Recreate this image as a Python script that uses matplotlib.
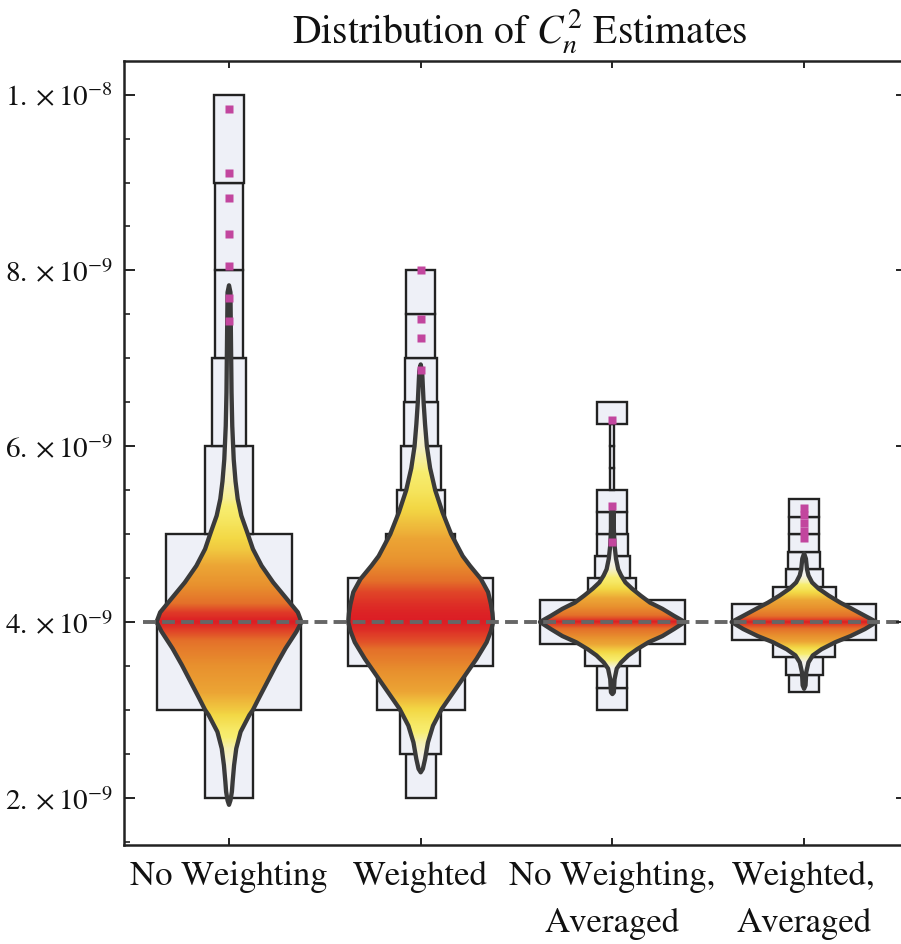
import numpy as np
import matplotlib
matplotlib.use("Agg")
import matplotlib.pyplot as plt
from matplotlib.patches import Rectangle, Polygon
from matplotlib.colors import LinearSegmentedColormap
from matplotlib.ticker import FixedLocator, FuncFormatter, MultipleLocator

plt.rcParams['font.family'] = ['STIXGeneral', 'DejaVu Sans']
plt.rcParams['mathtext.fontset'] = 'stix'

# ---------------- data (values in units of 1e-9) ----------------
UNIT = 1e-9
categories = ["No Weighting", "Weighted", "No Weighting,\nAveraged", "Weighted,\nAveraged"]
reference_value = 4.0

# histogram-like bins (edges) and their relative widths (1 = widest)
bins_g1 = [2.0, 3.0, 4.0, 5.0, 6.0, 7.0, 8.0, 9.0, 10.0]
wts_g1 = [0.33, 1.00, 0.876, 0.33, 0.24, 0.20, 0.20, 0.214]

bins_g2 = [2.0, 2.5, 3.0, 3.5, 4.0, 4.5, 5.0, 5.5, 6.0, 6.5, 7.0, 7.5, 8.0]
wts_g2 = [0.207, 0.283, 0.607, 1.00, 1.00, 0.476, 0.331, 0.276, 0.234, 0.221, 0.20, 0.20]

bins_g3 = [3.0, 3.25, 3.5, 3.75, 4.0, 4.25, 4.5, 4.75, 5.0, 5.25, 5.5, 5.75, 6.0, 6.25, 6.5]
wts_g3 = [0.207, 0.207, 0.379, 1.00, 1.00, 0.331, 0.241, 0.214, 0.207, 0.207, 0.028, 0.028, 0.028, 0.207]

bins_g4 = [3.2, 3.4, 3.6, 3.8, 4.0, 4.2, 4.4, 4.6, 4.8, 5.0, 5.2, 5.4]
wts_g4 = [0.207, 0.255, 0.428, 0.993, 0.993, 0.434, 0.255, 0.221, 0.207, 0.207, 0.207]

# violin profiles: y values and relative half widths (density, 1 = max)
vy_g1 = [1.92, 1.97, 2.07, 2.18, 2.37, 2.56, 2.75, 2.94, 3.00, 3.13, 3.32, 3.51, 3.70, 3.89, 4.00,
         4.11, 4.27, 4.45, 4.64, 4.83, 5.00, 5.21, 5.40, 5.60, 5.85, 6.23, 6.61, 7.00, 7.37, 7.75, 7.83]
vw_g1 = [0.0, 0.02, 0.04, 0.05, 0.07, 0.10, 0.16, 0.28, 0.33, 0.41, 0.53, 0.65, 0.78, 0.93, 1.00,
         0.95, 0.79, 0.61, 0.45, 0.33, 0.26, 0.17, 0.12, 0.09, 0.065, 0.045, 0.035, 0.03, 0.025, 0.02, 0.0]

vy_g2 = [2.29, 2.33, 2.44, 2.63, 2.82, 3.01, 3.20, 3.39, 3.58, 3.77, 3.90, 4.00, 4.10, 4.20, 4.34,
         4.49, 4.64, 4.75, 5.00, 5.25, 5.50, 5.75, 6.00, 6.25, 6.50, 6.85, 6.93]
vw_g2 = [0.0, 0.03, 0.06, 0.10, 0.17, 0.29, 0.45, 0.61, 0.77, 0.91, 0.97, 1.00, 0.99, 0.97, 0.93,
         0.83, 0.68, 0.58, 0.42, 0.30, 0.20, 0.13, 0.085, 0.06, 0.04, 0.02, 0.0]

vy_g3 = [3.18, 3.20, 3.35, 3.47, 3.54, 3.62, 3.69, 3.77, 3.84, 3.92, 4.00, 4.07, 4.15, 4.22, 4.30,
         4.38, 4.45, 4.53, 4.60, 4.72, 4.87, 5.06, 5.25, 5.31]
vw_g3 = [0.0, 0.02, 0.03, 0.06, 0.12, 0.22, 0.34, 0.50, 0.69, 0.85, 1.00, 0.85, 0.69, 0.52, 0.39,
         0.27, 0.18, 0.12, 0.08, 0.05, 0.03, 0.02, 0.02, 0.0]

vy_g4 = [3.24, 3.28, 3.43, 3.54, 3.62, 3.69, 3.77, 3.84, 3.92, 4.00, 4.07, 4.15, 4.22, 4.30, 4.38,
         4.45, 4.53, 4.60, 4.72, 4.78]
vw_g4 = [0.0, 0.02, 0.03, 0.06, 0.12, 0.24, 0.43, 0.64, 0.84, 1.00, 0.84, 0.66, 0.50, 0.34, 0.20,
         0.11, 0.06, 0.04, 0.025, 0.0]

outliers_g1 = [9.84, 9.11, 8.82, 8.41, 8.05, 7.69, 7.43]
outliers_g2 = [8.00, 7.45, 7.23, 6.87]
outliers_g3 = [6.30, 5.32, 4.91]
outliers_g4 = [5.30, 5.22, 5.13, 5.04, 4.96]

y_major = [2.0, 4.0, 6.0, 8.0, 10.0]

groups = [
    (bins_g1, wts_g1, vy_g1, vw_g1, outliers_g1),
    (bins_g2, wts_g2, vy_g2, vw_g2, outliers_g2),
    (bins_g3, wts_g3, vy_g3, vw_g3, outliers_g3),
    (bins_g4, wts_g4, vy_g4, vw_g4, outliers_g4),
]

# ---------------- style ----------------
BOX_MAX_WIDTH = 0.755
VIOLIN_MAX_HALF = 0.378
BOX_FACE = '#eef0f7'
BOX_EDGE = '#222222'
OUTLINE = '#3a3a3a'
OUTLIER_COLOR = '#c2469e'

cmap = LinearSegmentedColormap.from_list('heat', [
    (0.00, '#e9eef8'),
    (0.06, '#f4f2ec'),
    (0.14, '#f8ee70'),
    (0.28, '#f3d845'),
    (0.45, '#eca535'),
    (0.65, '#e8902e'),
    (0.85, '#e4702a'),
    (0.94, '#e04228'),
    (1.00, '#dc1e25'),
])

fig = plt.figure(figsize=(9.01, 9.45), dpi=100)
W, H = 901, 945
L, R, B, T = 124, 903, 846, 62
ax = fig.add_axes([L / W, 1 - B / H, (R - L) / W, (B - T) / H])

positions = np.arange(1, len(categories) + 1)

for pos, (edges, wts, vy, vw, outs) in zip(positions, groups):
    # boxes
    for lo, hi, w in zip(edges[:-1], edges[1:], wts):
        bw = w * BOX_MAX_WIDTH
        ax.add_patch(Rectangle((pos - bw / 2, lo * UNIT), bw, (hi - lo) * UNIT,
                               facecolor=BOX_FACE, edgecolor=BOX_EDGE, lw=1.7, zorder=1))
    # violin
    vy_a = np.array(vy) * UNIT
    vw_a = np.array(vw) * VIOLIN_MAX_HALF
    xs = np.concatenate([pos + vw_a, (pos - vw_a)[::-1]])
    ys = np.concatenate([vy_a, vy_a[::-1]])
    poly = Polygon(np.column_stack([xs, ys]), closed=True, facecolor='none',
                   edgecolor=OUTLINE, lw=3.1, joinstyle='round', zorder=3)
    ax.add_patch(poly)
    rows = np.linspace(vy_a.min(), vy_a.max(), 600)
    dens = np.interp(rows, vy_a, np.array(vw))
    img = cmap(dens)[:, None, :]
    img = np.repeat(img, 2, axis=1)
    im = ax.imshow(img, extent=[pos - VIOLIN_MAX_HALF, pos + VIOLIN_MAX_HALF,
                                vy_a.min(), vy_a.max()],
                   origin='lower', aspect='auto', interpolation='bilinear', zorder=2)
    clip = Polygon(np.column_stack([xs, ys]), closed=True, transform=ax.transData)
    im.set_clip_path(clip)
    # outliers
    ax.plot([pos] * len(outs), np.array(outs) * UNIT, linestyle='none', marker='s',
            ms=5.8, color=OUTLIER_COLOR, mec='none', zorder=5)

# reference dashed line
ax.axhline(reference_value * UNIT, xmin=(143 - L) / (R - L), xmax=1.0, color='#666666',
           lw=2.8, dashes=(3.3, 1.6), zorder=4)

# axes limits
px_per_cat = 191.7
ax.set_xlim(1 - (229 - L) / px_per_cat, 1 - (229 - L) / px_per_cat + (R - L) / px_per_cat)
px_per_unit = 87.9
ax.set_ylim((reference_value - (B - 623) / px_per_unit) * UNIT,
            (reference_value + (623 - T) / px_per_unit) * UNIT)

for s in ax.spines.values():
    s.set_linewidth(1.8)
    s.set_color('#222222')

# y ticks
ax.yaxis.set_major_locator(FixedLocator([v * UNIT for v in y_major]))
ax.yaxis.set_minor_locator(MultipleLocator(0.5 * UNIT))


def yfmt(v, p):
    e = int(np.floor(np.log10(v) + 1e-9))
    m = v / 10 ** e
    return r'$%d.\times10^{%d}$' % (round(m), e)


ax.yaxis.set_major_formatter(FuncFormatter(yfmt))
ax.tick_params(axis='y', which='major', direction='in', length=8, width=1.4,
               labelsize=21, pad=8, left=True, right=False, colors='#222222')
ax.tick_params(axis='y', which='minor', direction='in', length=4, width=1.2,
               left=True, right=False, colors='#222222')
for v in y_major:
    ax.plot([1 - 6 / (R - L), 1.0], [v * UNIT] * 2, color='#222222', lw=1.4,
            transform=ax.get_yaxis_transform(), clip_on=False, zorder=6)

# x ticks
ax.set_xticks(positions)
ax.set_xticklabels(categories, fontsize=25, linespacing=1.6)
ax.tick_params(axis='x', which='major', direction='in', length=5, width=1.4,
               top=True, bottom=True, pad=11, colors='#222222')
ax.tick_params(axis='x', labelcolor='#111111')
ax.tick_params(axis='y', labelcolor='#111111')

fig.text(520 / W, 1 - 43 / H, r'Distribution of $C_n^2$ Estimates', ha='center',
         va='baseline', fontsize=28.5, color='#111111')

fig.savefig('out.png', dpi=100)
